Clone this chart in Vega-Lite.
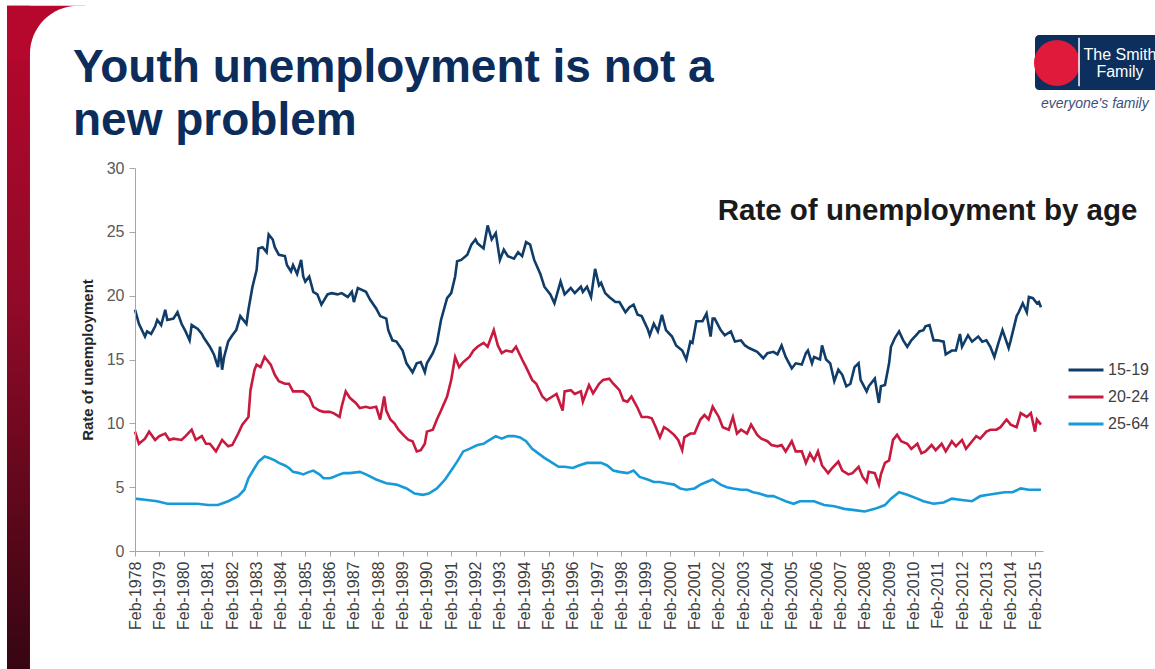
{
  "$schema": "https://vega.github.io/schema/vega-lite/v6.json",
  "width": 908,
  "height": 383,
  "autosize": {"type": "none"},
  "padding": {"left": 135, "top": 168, "right": 112, "bottom": 118},
  "background": "white",
  "config": {"view": {"stroke": null}, "font": "Liberation Sans", "axis": {"labelOverlap": false}},
  "layer": [
    {
      "data": {"values": [{}]},
      "mark": {"type": "rect", "fill": {"gradient": "linear", "x1": 0, "y1": 0, "x2": 0, "y2": 1,
        "stops": [{"offset": 0, "color": "#b6072d"}, {"offset": 0.4, "color": "#910a27"}, {"offset": 0.88, "color": "#3a0613"}, {"offset": 1, "color": "#2a0410"}]}},
      "encoding": {
        "x": {"datum": {"year": 1972, "month": 10, "date": 28, "utc": true}, "type": "temporal"},
        "x2": {"datum": {"year": 1973, "month": 10, "date": 8, "utc": true}},
        "y": {"datum": 42.7, "type": "quantitative"},
        "y2": {"datum": -15}
      }
    },
    {
      "data": {"values": [{}]},
      "mark": {"type": "rect", "fill": "#b6072d"},
      "encoding": {
        "x": {"datum": {"year": 1972, "month": 10, "date": 28, "utc": true}, "type": "temporal"},
        "x2": {"datum": {"year": 1976, "month": 1, "date": 12, "utc": true}},
        "y": {"datum": 42.7, "type": "quantitative"},
        "y2": {"datum": 38.46}
      }
    },
    {
      "data": {"values": [{}]},
      "mark": {"type": "rect", "fill": "white", "cornerRadiusTopLeft": 48},
      "encoding": {
        "x": {"datum": {"year": 1973, "month": 10, "date": 8, "utc": true}, "type": "temporal"},
        "x2": {"datum": {"year": 1978, "month": 4, "date": 17, "utc": true}},
        "y": {"datum": 42.7, "type": "quantitative"},
        "y2": {"datum": 34.54}
      }
    },
    {
      "data": {"values": [{}]},
      "mark": {"type": "text", "text": "Youth unemployment is not a", "fill": "#0c2d5c", "fontSize": 46, "fontWeight": "bold", "align": "left", "baseline": "alphabetic"},
      "encoding": {
        "x": {"datum": {"year": 1975, "month": 7, "date": 16, "utc": true}, "type": "temporal"},
        "y": {"datum": 36.74, "type": "quantitative"}
      }
    },
    {
      "data": {"values": [{}]},
      "mark": {"type": "text", "text": "new problem", "fill": "#0c2d5c", "fontSize": 46, "fontWeight": "bold", "align": "left", "baseline": "alphabetic"},
      "encoding": {
        "x": {"datum": {"year": 1975, "month": 7, "date": 16, "utc": true}, "type": "temporal"},
        "y": {"datum": 32.58, "type": "quantitative"}
      }
    },
    {
      "data": {"values": [{}]},
      "mark": {"type": "rect", "fill": "#0d2f5e", "cornerRadius": 4},
      "encoding": {
        "x": {"datum": {"year": 2015, "month": 2, "date": 1, "utc": true}, "type": "temporal"},
        "x2": {"datum": {"year": 2030, "month": 1, "date": 1, "utc": true}},
        "y": {"datum": 40.42, "type": "quantitative"},
        "y2": {"datum": 36.11}
      }
    },
    {
      "data": {"values": [{}]},
      "mark": {"type": "point", "shape": "circle", "filled": true, "fill": "#e01a3a", "opacity": 1, "size": 2116},
      "encoding": {
        "x": {"datum": {"year": 2015, "month": 12, "date": 28, "utc": true}, "type": "temporal"},
        "y": {"datum": 38.22, "type": "quantitative"}
      }
    },
    {
      "data": {"values": [{}]},
      "mark": {"type": "rule", "stroke": "white", "strokeWidth": 1.5},
      "encoding": {
        "x": {"datum": {"year": 2016, "month": 11, "date": 23, "utc": true}, "type": "temporal"},
        "y": {"datum": 40.2, "type": "quantitative"},
        "y2": {"datum": 36.4}
      }
    },
    {
      "data": {"values": [{}]},
      "mark": {"type": "text", "text": "The Smith", "fill": "white", "fontSize": 16, "align": "center", "baseline": "alphabetic"},
      "encoding": {
        "x": {"datum": {"year": 2018, "month": 7, "date": 31, "utc": true}, "type": "temporal"},
        "y": {"datum": 38.46, "type": "quantitative"}
      }
    },
    {
      "data": {"values": [{}]},
      "mark": {"type": "text", "text": "Family", "fill": "white", "fontSize": 16, "align": "center", "baseline": "alphabetic"},
      "encoding": {
        "x": {"datum": {"year": 2018, "month": 7, "date": 31, "utc": true}, "type": "temporal"},
        "y": {"datum": 37.13, "type": "quantitative"}
      }
    },
    {
      "data": {"values": [{}]},
      "mark": {"type": "text", "text": "everyone's family", "fill": "#3d4f7c", "fontSize": 14, "fontStyle": "italic", "align": "center", "baseline": "alphabetic"},
      "encoding": {
        "x": {"datum": {"year": 2017, "month": 7, "date": 19, "utc": true}, "type": "temporal"},
        "y": {"datum": 34.7, "type": "quantitative"}
      }
    },
    {
      "data": {"values": [{}]},
      "mark": {"type": "text", "text": "Rate of unemployment by age", "fill": "#1a1a1a", "fontSize": 29.5, "fontWeight": "bold", "align": "center", "baseline": "alphabetic"},
      "encoding": {
        "x": {"datum": {"year": 2010, "month": 9, "date": 1, "utc": true}, "type": "temporal"},
        "y": {"datum": 25.93, "type": "quantitative"}
      }
    },
    {
      "data": {"values": [
        {"d":"1978-02","s":"15-19","v":18.9},{"d":"1978-04","s":"15-19","v":17.8},{"d":"1978-07","s":"15-19","v":16.8},{"d":"1978-08","s":"15-19","v":17.2},{"d":"1978-10","s":"15-19","v":17.0},{"d":"1978-12","s":"15-19","v":17.6},
        {"d":"1979-01","s":"15-19","v":18.1},{"d":"1979-03","s":"15-19","v":17.7},{"d":"1979-05","s":"15-19","v":18.9},{"d":"1979-06","s":"15-19","v":18.1},{"d":"1979-09","s":"15-19","v":18.2},{"d":"1979-11","s":"15-19","v":18.7},
        {"d":"1980-01","s":"15-19","v":17.8},{"d":"1980-03","s":"15-19","v":17.2},{"d":"1980-05","s":"15-19","v":16.5},{"d":"1980-06","s":"15-19","v":17.7},{"d":"1980-09","s":"15-19","v":17.4},{"d":"1980-11","s":"15-19","v":17.0},{"d":"1980-12","s":"15-19","v":16.7},
        {"d":"1981-03","s":"15-19","v":16.0},{"d":"1981-05","s":"15-19","v":15.4},{"d":"1981-07","s":"15-19","v":14.4},{"d":"1981-08","s":"15-19","v":16.0},{"d":"1981-09","s":"15-19","v":14.2},{"d":"1981-10","s":"15-19","v":15.2},{"d":"1981-12","s":"15-19","v":16.4},
        {"d":"1982-02","s":"15-19","v":16.9},{"d":"1982-04","s":"15-19","v":17.3},{"d":"1982-06","s":"15-19","v":18.4},{"d":"1982-09","s":"15-19","v":17.8},{"d":"1982-10","s":"15-19","v":18.9},{"d":"1982-12","s":"15-19","v":20.7},
        {"d":"1983-02","s":"15-19","v":22.0},{"d":"1983-03","s":"15-19","v":23.7},{"d":"1983-05","s":"15-19","v":23.8},{"d":"1983-07","s":"15-19","v":23.4},{"d":"1983-08","s":"15-19","v":24.8},{"d":"1983-10","s":"15-19","v":24.4},{"d":"1983-11","s":"15-19","v":23.8},
        {"d":"1984-01","s":"15-19","v":23.2},{"d":"1984-04","s":"15-19","v":23.1},{"d":"1984-05","s":"15-19","v":22.4},{"d":"1984-07","s":"15-19","v":21.9},{"d":"1984-08","s":"15-19","v":22.4},{"d":"1984-10","s":"15-19","v":21.7},{"d":"1984-12","s":"15-19","v":22.8},
        {"d":"1985-01","s":"15-19","v":21.5},{"d":"1985-02","s":"15-19","v":21.1},{"d":"1985-04","s":"15-19","v":21.5},{"d":"1985-06","s":"15-19","v":20.3},{"d":"1985-08","s":"15-19","v":20.1},{"d":"1985-10","s":"15-19","v":19.3},
        {"d":"1986-01","s":"15-19","v":20.1},{"d":"1986-03","s":"15-19","v":20.2},{"d":"1986-06","s":"15-19","v":20.1},{"d":"1986-08","s":"15-19","v":20.2},{"d":"1986-11","s":"15-19","v":19.9},
        {"d":"1987-01","s":"15-19","v":20.3},{"d":"1987-02","s":"15-19","v":19.5},{"d":"1987-04","s":"15-19","v":20.6},{"d":"1987-08","s":"15-19","v":20.3},{"d":"1987-10","s":"15-19","v":19.7},
        {"d":"1988-01","s":"15-19","v":19.0},{"d":"1988-03","s":"15-19","v":18.4},{"d":"1988-06","s":"15-19","v":18.2},{"d":"1988-07","s":"15-19","v":17.3},{"d":"1988-09","s":"15-19","v":16.5},{"d":"1988-11","s":"15-19","v":16.4},
        {"d":"1989-02","s":"15-19","v":15.7},{"d":"1989-04","s":"15-19","v":14.7},{"d":"1989-07","s":"15-19","v":14.0},{"d":"1989-09","s":"15-19","v":14.7},{"d":"1989-11","s":"15-19","v":14.8},
        {"d":"1990-01","s":"15-19","v":14.0},{"d":"1990-02","s":"15-19","v":14.7},{"d":"1990-05","s":"15-19","v":15.5},{"d":"1990-07","s":"15-19","v":16.3},{"d":"1990-09","s":"15-19","v":18.1},{"d":"1990-12","s":"15-19","v":19.8},
        {"d":"1991-02","s":"15-19","v":20.2},{"d":"1991-04","s":"15-19","v":21.5},{"d":"1991-05","s":"15-19","v":22.7},{"d":"1991-07","s":"15-19","v":22.8},{"d":"1991-10","s":"15-19","v":23.2},{"d":"1991-12","s":"15-19","v":24.0},
        {"d":"1992-02","s":"15-19","v":24.4},{"d":"1992-03","s":"15-19","v":24.1},{"d":"1992-06","s":"15-19","v":23.7},{"d":"1992-08","s":"15-19","v":25.5},{"d":"1992-10","s":"15-19","v":24.4},{"d":"1992-12","s":"15-19","v":24.9},
        {"d":"1993-02","s":"15-19","v":22.8},{"d":"1993-04","s":"15-19","v":23.6},{"d":"1993-06","s":"15-19","v":23.1},{"d":"1993-09","s":"15-19","v":22.9},{"d":"1993-11","s":"15-19","v":23.4},
        {"d":"1994-01","s":"15-19","v":23.1},{"d":"1994-03","s":"15-19","v":24.2},{"d":"1994-05","s":"15-19","v":24.0},{"d":"1994-07","s":"15-19","v":22.8},{"d":"1994-10","s":"15-19","v":21.7},{"d":"1994-12","s":"15-19","v":20.7},
        {"d":"1995-03","s":"15-19","v":20.1},{"d":"1995-05","s":"15-19","v":19.4},{"d":"1995-08","s":"15-19","v":21.1},{"d":"1995-10","s":"15-19","v":20.1},
        {"d":"1996-01","s":"15-19","v":20.6},{"d":"1996-03","s":"15-19","v":20.2},{"d":"1996-06","s":"15-19","v":20.7},{"d":"1996-07","s":"15-19","v":20.3},{"d":"1996-09","s":"15-19","v":20.7},{"d":"1996-11","s":"15-19","v":19.9},{"d":"1996-12","s":"15-19","v":21.0},
        {"d":"1997-01","s":"15-19","v":22.1},{"d":"1997-03","s":"15-19","v":20.8},{"d":"1997-04","s":"15-19","v":21.0},{"d":"1997-06","s":"15-19","v":20.2},{"d":"1997-08","s":"15-19","v":19.9},{"d":"1997-11","s":"15-19","v":19.5},
        {"d":"1998-01","s":"15-19","v":19.5},{"d":"1998-04","s":"15-19","v":18.7},{"d":"1998-06","s":"15-19","v":19.1},{"d":"1998-08","s":"15-19","v":19.3},{"d":"1998-10","s":"15-19","v":18.5},{"d":"1998-12","s":"15-19","v":18.4},
        {"d":"1999-03","s":"15-19","v":17.4},{"d":"1999-04","s":"15-19","v":16.9},{"d":"1999-06","s":"15-19","v":17.8},{"d":"1999-08","s":"15-19","v":17.2},{"d":"1999-10","s":"15-19","v":18.5},{"d":"1999-12","s":"15-19","v":17.3},
        {"d":"2000-03","s":"15-19","v":16.8},{"d":"2000-05","s":"15-19","v":16.1},{"d":"2000-08","s":"15-19","v":15.7},{"d":"2000-10","s":"15-19","v":15.0},{"d":"2000-12","s":"15-19","v":16.4},
        {"d":"2001-01","s":"15-19","v":16.3},{"d":"2001-03","s":"15-19","v":18.0},{"d":"2001-06","s":"15-19","v":18.0},{"d":"2001-08","s":"15-19","v":18.6},{"d":"2001-10","s":"15-19","v":16.8},{"d":"2001-11","s":"15-19","v":18.2},{"d":"2001-12","s":"15-19","v":18.2},
        {"d":"2002-03","s":"15-19","v":17.3},{"d":"2002-05","s":"15-19","v":16.9},{"d":"2002-08","s":"15-19","v":17.2},{"d":"2002-10","s":"15-19","v":16.4},
        {"d":"2003-01","s":"15-19","v":16.5},{"d":"2003-03","s":"15-19","v":16.1},{"d":"2003-05","s":"15-19","v":15.9},{"d":"2003-09","s":"15-19","v":15.6},{"d":"2003-12","s":"15-19","v":15.1},
        {"d":"2004-02","s":"15-19","v":15.5},{"d":"2004-05","s":"15-19","v":15.6},{"d":"2004-07","s":"15-19","v":15.4},{"d":"2004-09","s":"15-19","v":16.1},{"d":"2004-11","s":"15-19","v":15.2},
        {"d":"2005-02","s":"15-19","v":14.3},{"d":"2005-04","s":"15-19","v":14.7},{"d":"2005-07","s":"15-19","v":14.6},{"d":"2005-09","s":"15-19","v":15.5},{"d":"2005-10","s":"15-19","v":15.7},{"d":"2005-12","s":"15-19","v":14.7},
        {"d":"2006-01","s":"15-19","v":15.2},{"d":"2006-04","s":"15-19","v":15.0},{"d":"2006-05","s":"15-19","v":16.1},{"d":"2006-07","s":"15-19","v":15.0},{"d":"2006-09","s":"15-19","v":14.7},{"d":"2006-11","s":"15-19","v":13.3},
        {"d":"2007-01","s":"15-19","v":14.2},{"d":"2007-03","s":"15-19","v":13.8},{"d":"2007-05","s":"15-19","v":12.9},{"d":"2007-07","s":"15-19","v":13.1},{"d":"2007-09","s":"15-19","v":14.4},{"d":"2007-11","s":"15-19","v":14.7},{"d":"2007-12","s":"15-19","v":13.4},
        {"d":"2008-03","s":"15-19","v":12.5},{"d":"2008-04","s":"15-19","v":12.9},{"d":"2008-07","s":"15-19","v":13.5},{"d":"2008-09","s":"15-19","v":11.6},{"d":"2008-10","s":"15-19","v":12.9},{"d":"2008-12","s":"15-19","v":13.0},
        {"d":"2009-02","s":"15-19","v":14.7},{"d":"2009-03","s":"15-19","v":16.0},{"d":"2009-05","s":"15-19","v":16.7},{"d":"2009-07","s":"15-19","v":17.2},{"d":"2009-09","s":"15-19","v":16.5},{"d":"2009-11","s":"15-19","v":16.0},
        {"d":"2010-01","s":"15-19","v":16.5},{"d":"2010-04","s":"15-19","v":17.0},{"d":"2010-05","s":"15-19","v":17.2},{"d":"2010-07","s":"15-19","v":17.3},{"d":"2010-08","s":"15-19","v":17.6},{"d":"2010-10","s":"15-19","v":17.7},{"d":"2010-12","s":"15-19","v":16.5},
        {"d":"2011-02","s":"15-19","v":16.5},{"d":"2011-05","s":"15-19","v":16.4},{"d":"2011-06","s":"15-19","v":15.4},{"d":"2011-09","s":"15-19","v":15.7},{"d":"2011-11","s":"15-19","v":15.7},
        {"d":"2012-01","s":"15-19","v":17.0},{"d":"2012-02","s":"15-19","v":16.0},{"d":"2012-05","s":"15-19","v":16.9},{"d":"2012-07","s":"15-19","v":16.4},{"d":"2012-10","s":"15-19","v":16.8},{"d":"2012-12","s":"15-19","v":16.4},
        {"d":"2013-02","s":"15-19","v":16.5},{"d":"2013-04","s":"15-19","v":16.0},{"d":"2013-06","s":"15-19","v":15.2},{"d":"2013-08","s":"15-19","v":16.3},{"d":"2013-10","s":"15-19","v":17.3},
        {"d":"2014-01","s":"15-19","v":15.9},{"d":"2014-02","s":"15-19","v":16.5},{"d":"2014-05","s":"15-19","v":18.4},{"d":"2014-06","s":"15-19","v":18.7},{"d":"2014-08","s":"15-19","v":19.4},{"d":"2014-10","s":"15-19","v":18.7},{"d":"2014-11","s":"15-19","v":19.9},
        {"d":"2015-01","s":"15-19","v":19.8},{"d":"2015-03","s":"15-19","v":19.4},{"d":"2015-04","s":"15-19","v":19.5},{"d":"2015-05","s":"15-19","v":19.1},

        {"d":"1978-02","s":"20-24","v":9.35},{"d":"1978-04","s":"20-24","v":8.4},{"d":"1978-07","s":"20-24","v":8.8},{"d":"1978-09","s":"20-24","v":9.35},{"d":"1978-12","s":"20-24","v":8.7},
        {"d":"1979-02","s":"20-24","v":9.0},{"d":"1979-05","s":"20-24","v":9.2},{"d":"1979-07","s":"20-24","v":8.7},{"d":"1979-09","s":"20-24","v":8.8},
        {"d":"1980-01","s":"20-24","v":8.7},{"d":"1980-03","s":"20-24","v":9.0},{"d":"1980-06","s":"20-24","v":9.5},{"d":"1980-08","s":"20-24","v":8.7},{"d":"1980-11","s":"20-24","v":9.0},
        {"d":"1981-01","s":"20-24","v":8.4},{"d":"1981-03","s":"20-24","v":8.4},{"d":"1981-06","s":"20-24","v":7.8},{"d":"1981-08","s":"20-24","v":8.4},{"d":"1981-09","s":"20-24","v":8.7},{"d":"1981-12","s":"20-24","v":8.2},
        {"d":"1982-02","s":"20-24","v":8.3},{"d":"1982-05","s":"20-24","v":9.2},{"d":"1982-07","s":"20-24","v":9.9},{"d":"1982-10","s":"20-24","v":10.5},{"d":"1982-11","s":"20-24","v":12.6},
        {"d":"1983-01","s":"20-24","v":14.2},{"d":"1983-02","s":"20-24","v":14.6},{"d":"1983-04","s":"20-24","v":14.4},{"d":"1983-06","s":"20-24","v":15.2},{"d":"1983-07","s":"20-24","v":15.0},{"d":"1983-09","s":"20-24","v":14.6},{"d":"1983-11","s":"20-24","v":13.8},
        {"d":"1984-01","s":"20-24","v":13.3},{"d":"1984-04","s":"20-24","v":13.1},{"d":"1984-06","s":"20-24","v":13.1},{"d":"1984-08","s":"20-24","v":12.5},{"d":"1984-11","s":"20-24","v":12.5},
        {"d":"1985-01","s":"20-24","v":12.5},{"d":"1985-04","s":"20-24","v":12.1},{"d":"1985-06","s":"20-24","v":11.3},{"d":"1985-09","s":"20-24","v":11.0},{"d":"1985-11","s":"20-24","v":10.9},
        {"d":"1986-02","s":"20-24","v":10.9},{"d":"1986-04","s":"20-24","v":10.8},{"d":"1986-07","s":"20-24","v":10.5},{"d":"1986-08","s":"20-24","v":11.3},{"d":"1986-10","s":"20-24","v":12.5},{"d":"1986-12","s":"20-24","v":12.0},
        {"d":"1987-03","s":"20-24","v":11.6},{"d":"1987-05","s":"20-24","v":11.2},{"d":"1987-08","s":"20-24","v":11.3},{"d":"1987-10","s":"20-24","v":11.2},
        {"d":"1988-01","s":"20-24","v":11.3},{"d":"1988-03","s":"20-24","v":10.3},{"d":"1988-05","s":"20-24","v":12.1},{"d":"1988-06","s":"20-24","v":11.0},{"d":"1988-08","s":"20-24","v":10.3},{"d":"1988-10","s":"20-24","v":10.0},{"d":"1988-12","s":"20-24","v":9.5},
        {"d":"1989-03","s":"20-24","v":9.0},{"d":"1989-05","s":"20-24","v":8.7},{"d":"1989-07","s":"20-24","v":8.6},{"d":"1989-09","s":"20-24","v":7.8},{"d":"1989-11","s":"20-24","v":7.9},
        {"d":"1990-01","s":"20-24","v":8.4},{"d":"1990-02","s":"20-24","v":9.35},{"d":"1990-05","s":"20-24","v":9.5},{"d":"1990-07","s":"20-24","v":10.3},{"d":"1990-09","s":"20-24","v":11.0},{"d":"1990-12","s":"20-24","v":12.1},
        {"d":"1991-02","s":"20-24","v":13.4},{"d":"1991-04","s":"20-24","v":15.2},{"d":"1991-06","s":"20-24","v":14.4},{"d":"1991-08","s":"20-24","v":14.8},{"d":"1991-11","s":"20-24","v":15.2},
        {"d":"1992-01","s":"20-24","v":15.7},{"d":"1992-03","s":"20-24","v":16.0},{"d":"1992-06","s":"20-24","v":16.3},{"d":"1992-08","s":"20-24","v":16.0},{"d":"1992-11","s":"20-24","v":17.3},
        {"d":"1993-01","s":"20-24","v":16.1},{"d":"1993-03","s":"20-24","v":15.5},{"d":"1993-05","s":"20-24","v":15.7},{"d":"1993-08","s":"20-24","v":15.6},{"d":"1993-10","s":"20-24","v":16.0},
        {"d":"1994-01","s":"20-24","v":15.0},{"d":"1994-03","s":"20-24","v":14.4},{"d":"1994-06","s":"20-24","v":13.4},{"d":"1994-08","s":"20-24","v":13.1},{"d":"1994-11","s":"20-24","v":12.1},
        {"d":"1995-01","s":"20-24","v":11.8},{"d":"1995-04","s":"20-24","v":12.1},{"d":"1995-06","s":"20-24","v":12.3},{"d":"1995-09","s":"20-24","v":11.0},{"d":"1995-10","s":"20-24","v":12.5},
        {"d":"1996-01","s":"20-24","v":12.6},{"d":"1996-03","s":"20-24","v":12.3},{"d":"1996-06","s":"20-24","v":12.5},{"d":"1996-07","s":"20-24","v":11.7},{"d":"1996-10","s":"20-24","v":13.0},{"d":"1996-12","s":"20-24","v":12.35},
        {"d":"1997-03","s":"20-24","v":13.1},{"d":"1997-05","s":"20-24","v":13.4},{"d":"1997-08","s":"20-24","v":13.5},{"d":"1997-10","s":"20-24","v":13.1},
        {"d":"1998-01","s":"20-24","v":12.6},{"d":"1998-03","s":"20-24","v":11.8},{"d":"1998-05","s":"20-24","v":11.7},{"d":"1998-07","s":"20-24","v":12.1},{"d":"1998-10","s":"20-24","v":11.2},{"d":"1998-12","s":"20-24","v":10.5},
        {"d":"1999-03","s":"20-24","v":10.5},{"d":"1999-05","s":"20-24","v":10.4},{"d":"1999-07","s":"20-24","v":9.7},{"d":"1999-09","s":"20-24","v":8.9},{"d":"1999-11","s":"20-24","v":9.7},
        {"d":"2000-01","s":"20-24","v":9.5},{"d":"2000-04","s":"20-24","v":9.1},{"d":"2000-06","s":"20-24","v":8.7},{"d":"2000-08","s":"20-24","v":7.9},{"d":"2000-09","s":"20-24","v":8.9},{"d":"2000-12","s":"20-24","v":9.2},
        {"d":"2001-02","s":"20-24","v":9.2},{"d":"2001-05","s":"20-24","v":10.3},{"d":"2001-07","s":"20-24","v":10.65},{"d":"2001-09","s":"20-24","v":10.3},{"d":"2001-11","s":"20-24","v":11.3},
        {"d":"2002-02","s":"20-24","v":10.5},{"d":"2002-04","s":"20-24","v":9.7},{"d":"2002-07","s":"20-24","v":9.5},{"d":"2002-09","s":"20-24","v":10.5},{"d":"2002-11","s":"20-24","v":9.2},
        {"d":"2003-01","s":"20-24","v":9.5},{"d":"2003-04","s":"20-24","v":9.2},{"d":"2003-06","s":"20-24","v":9.9},{"d":"2003-09","s":"20-24","v":9.1},{"d":"2003-11","s":"20-24","v":8.8},
        {"d":"2004-02","s":"20-24","v":8.6},{"d":"2004-04","s":"20-24","v":8.3},{"d":"2004-07","s":"20-24","v":8.2},{"d":"2004-09","s":"20-24","v":8.3},{"d":"2004-11","s":"20-24","v":7.8},
        {"d":"2005-02","s":"20-24","v":8.6},{"d":"2005-04","s":"20-24","v":7.8},{"d":"2005-07","s":"20-24","v":7.8},{"d":"2005-09","s":"20-24","v":6.9},{"d":"2005-11","s":"20-24","v":7.65},
        {"d":"2006-01","s":"20-24","v":7.1},{"d":"2006-03","s":"20-24","v":7.8},{"d":"2006-05","s":"20-24","v":6.7},{"d":"2006-08","s":"20-24","v":6.1},{"d":"2006-10","s":"20-24","v":6.5},
        {"d":"2007-01","s":"20-24","v":7.0},{"d":"2007-03","s":"20-24","v":6.3},{"d":"2007-06","s":"20-24","v":6.0},{"d":"2007-08","s":"20-24","v":6.1},{"d":"2007-11","s":"20-24","v":6.6},
        {"d":"2008-01","s":"20-24","v":5.8},{"d":"2008-03","s":"20-24","v":5.4},{"d":"2008-04","s":"20-24","v":6.2},{"d":"2008-07","s":"20-24","v":6.1},{"d":"2008-09","s":"20-24","v":5.2},{"d":"2008-10","s":"20-24","v":6.0},{"d":"2008-12","s":"20-24","v":6.9},
        {"d":"2009-02","s":"20-24","v":7.1},{"d":"2009-04","s":"20-24","v":8.7},{"d":"2009-06","s":"20-24","v":9.1},{"d":"2009-08","s":"20-24","v":8.6},{"d":"2009-11","s":"20-24","v":8.4},
        {"d":"2010-01","s":"20-24","v":8.0},{"d":"2010-04","s":"20-24","v":8.4},{"d":"2010-06","s":"20-24","v":7.65},{"d":"2010-08","s":"20-24","v":7.8},{"d":"2010-11","s":"20-24","v":8.3},
        {"d":"2011-01","s":"20-24","v":7.9},{"d":"2011-04","s":"20-24","v":8.4},{"d":"2011-06","s":"20-24","v":7.8},{"d":"2011-09","s":"20-24","v":8.6},{"d":"2011-11","s":"20-24","v":8.2},
        {"d":"2012-02","s":"20-24","v":8.7},{"d":"2012-04","s":"20-24","v":8.0},{"d":"2012-07","s":"20-24","v":8.6},{"d":"2012-09","s":"20-24","v":9.0},{"d":"2012-11","s":"20-24","v":8.8},
        {"d":"2013-02","s":"20-24","v":9.35},{"d":"2013-04","s":"20-24","v":9.5},{"d":"2013-07","s":"20-24","v":9.5},{"d":"2013-09","s":"20-24","v":9.7},{"d":"2013-12","s":"20-24","v":10.3},
        {"d":"2014-02","s":"20-24","v":9.9},{"d":"2014-05","s":"20-24","v":9.7},{"d":"2014-07","s":"20-24","v":10.8},{"d":"2014-10","s":"20-24","v":10.5},{"d":"2014-12","s":"20-24","v":10.8},
        {"d":"2015-02","s":"20-24","v":9.35},{"d":"2015-03","s":"20-24","v":10.3},{"d":"2015-05","s":"20-24","v":9.9},

        {"d":"1978-02","s":"25-64","v":4.1},{"d":"1978-08","s":"25-64","v":4.0},{"d":"1979-01","s":"25-64","v":3.9},{"d":"1979-06","s":"25-64","v":3.7},{"d":"1979-11","s":"25-64","v":3.7},
        {"d":"1980-04","s":"25-64","v":3.7},{"d":"1980-09","s":"25-64","v":3.7},{"d":"1981-02","s":"25-64","v":3.6},{"d":"1981-07","s":"25-64","v":3.6},{"d":"1981-12","s":"25-64","v":3.9},
        {"d":"1982-05","s":"25-64","v":4.3},{"d":"1982-08","s":"25-64","v":4.8},{"d":"1982-10","s":"25-64","v":5.7},{"d":"1983-01","s":"25-64","v":6.5},{"d":"1983-03","s":"25-64","v":7.0},{"d":"1983-06","s":"25-64","v":7.4},{"d":"1983-08","s":"25-64","v":7.3},{"d":"1983-11","s":"25-64","v":7.1},
        {"d":"1984-01","s":"25-64","v":6.9},{"d":"1984-04","s":"25-64","v":6.7},{"d":"1984-06","s":"25-64","v":6.5},{"d":"1984-08","s":"25-64","v":6.2},{"d":"1984-11","s":"25-64","v":6.1},
        {"d":"1985-01","s":"25-64","v":6.0},{"d":"1985-04","s":"25-64","v":6.2},{"d":"1985-06","s":"25-64","v":6.3},{"d":"1985-09","s":"25-64","v":6.0},{"d":"1985-11","s":"25-64","v":5.7},
        {"d":"1986-02","s":"25-64","v":5.7},{"d":"1986-04","s":"25-64","v":5.8},{"d":"1986-07","s":"25-64","v":6.0},{"d":"1986-09","s":"25-64","v":6.1},{"d":"1986-12","s":"25-64","v":6.1},
        {"d":"1987-05","s":"25-64","v":6.2},{"d":"1987-08","s":"25-64","v":6.0},{"d":"1988-01","s":"25-64","v":5.6},{"d":"1988-06","s":"25-64","v":5.3},{"d":"1988-11","s":"25-64","v":5.2},
        {"d":"1989-04","s":"25-64","v":4.9},{"d":"1989-08","s":"25-64","v":4.5},{"d":"1989-12","s":"25-64","v":4.4},{"d":"1990-03","s":"25-64","v":4.5},{"d":"1990-07","s":"25-64","v":4.9},{"d":"1990-11","s":"25-64","v":5.6},
        {"d":"1991-02","s":"25-64","v":6.3},{"d":"1991-05","s":"25-64","v":7.0},{"d":"1991-08","s":"25-64","v":7.8},{"d":"1991-11","s":"25-64","v":8.0},
        {"d":"1992-03","s":"25-64","v":8.3},{"d":"1992-06","s":"25-64","v":8.4},{"d":"1992-08","s":"25-64","v":8.6},{"d":"1992-12","s":"25-64","v":9.0},
        {"d":"1993-03","s":"25-64","v":8.8},{"d":"1993-06","s":"25-64","v":9.0},{"d":"1993-09","s":"25-64","v":9.0},{"d":"1993-12","s":"25-64","v":8.9},
        {"d":"1994-03","s":"25-64","v":8.6},{"d":"1994-06","s":"25-64","v":8.0},{"d":"1994-09","s":"25-64","v":7.65},{"d":"1994-12","s":"25-64","v":7.3},
        {"d":"1995-04","s":"25-64","v":6.9},{"d":"1995-07","s":"25-64","v":6.6},{"d":"1995-10","s":"25-64","v":6.6},{"d":"1996-02","s":"25-64","v":6.5},{"d":"1996-05","s":"25-64","v":6.7},{"d":"1996-09","s":"25-64","v":6.9},{"d":"1996-12","s":"25-64","v":6.9},
        {"d":"1997-04","s":"25-64","v":6.9},{"d":"1997-07","s":"25-64","v":6.7},{"d":"1997-10","s":"25-64","v":6.3},{"d":"1998-01","s":"25-64","v":6.2},{"d":"1998-05","s":"25-64","v":6.1},{"d":"1998-08","s":"25-64","v":6.3},{"d":"1998-11","s":"25-64","v":5.8},
        {"d":"1999-03","s":"25-64","v":5.6},{"d":"1999-06","s":"25-64","v":5.4},{"d":"1999-09","s":"25-64","v":5.4},{"d":"1999-12","s":"25-64","v":5.3},
        {"d":"2000-04","s":"25-64","v":5.2},{"d":"2000-07","s":"25-64","v":4.9},{"d":"2000-10","s":"25-64","v":4.8},{"d":"2001-02","s":"25-64","v":4.9},{"d":"2001-05","s":"25-64","v":5.2},{"d":"2001-08","s":"25-64","v":5.4},{"d":"2001-11","s":"25-64","v":5.6},
        {"d":"2002-03","s":"25-64","v":5.2},{"d":"2002-06","s":"25-64","v":5.0},{"d":"2002-09","s":"25-64","v":4.9},{"d":"2003-01","s":"25-64","v":4.8},{"d":"2003-04","s":"25-64","v":4.8},{"d":"2003-07","s":"25-64","v":4.6},{"d":"2003-10","s":"25-64","v":4.5},
        {"d":"2004-02","s":"25-64","v":4.3},{"d":"2004-05","s":"25-64","v":4.3},{"d":"2004-08","s":"25-64","v":4.1},{"d":"2004-11","s":"25-64","v":3.9},
        {"d":"2005-03","s":"25-64","v":3.7},{"d":"2005-06","s":"25-64","v":3.9},{"d":"2005-11","s":"25-64","v":3.9},{"d":"2006-01","s":"25-64","v":3.9},{"d":"2006-06","s":"25-64","v":3.6},{"d":"2006-11","s":"25-64","v":3.5},
        {"d":"2007-04","s":"25-64","v":3.3},{"d":"2007-09","s":"25-64","v":3.2},{"d":"2008-02","s":"25-64","v":3.1},{"d":"2008-07","s":"25-64","v":3.3},{"d":"2008-12","s":"25-64","v":3.6},
        {"d":"2009-03","s":"25-64","v":4.1},{"d":"2009-07","s":"25-64","v":4.6},{"d":"2009-11","s":"25-64","v":4.4},{"d":"2010-04","s":"25-64","v":4.1},{"d":"2010-07","s":"25-64","v":3.9},{"d":"2010-12","s":"25-64","v":3.7},
        {"d":"2011-05","s":"25-64","v":3.8},{"d":"2011-09","s":"25-64","v":4.1},{"d":"2012-02","s":"25-64","v":4.0},{"d":"2012-07","s":"25-64","v":3.9},{"d":"2012-11","s":"25-64","v":4.3},
        {"d":"2013-03","s":"25-64","v":4.4},{"d":"2013-07","s":"25-64","v":4.5},{"d":"2013-11","s":"25-64","v":4.6},{"d":"2014-03","s":"25-64","v":4.6},{"d":"2014-07","s":"25-64","v":4.9},{"d":"2014-11","s":"25-64","v":4.8},{"d":"2015-05","s":"25-64","v":4.8}
      ]},
      "mark": {"type": "line", "strokeWidth": 2.6, "interpolate": "linear"},
      "encoding": {
        "x": {
          "field": "d", "type": "temporal",
          "scale": {"type": "utc", "domain": [{"year": 1978, "month": 2, "date": 1, "utc": true}, {"year": 2015, "month": 6, "date": 1, "utc": true}]},
          "axis": {
            "title": null, "format": "%b-%Y", "labelAngle": -90, "labelFontSize": 16, "labelColor": "#404040", "labelFont": "Liberation Sans",
            "tickSize": 5, "tickColor": "#a6a6a6", "domainColor": "#a6a6a6", "labelPadding": 5, "grid": false, "zindex": 1, "labelOverlap": false, "tickCount": 60,
            "values": [
              {"year":1978,"month":2,"date":1,"utc":true},{"year":1979,"month":2,"date":1,"utc":true},{"year":1980,"month":2,"date":1,"utc":true},{"year":1981,"month":2,"date":1,"utc":true},
              {"year":1982,"month":2,"date":1,"utc":true},{"year":1983,"month":2,"date":1,"utc":true},{"year":1984,"month":2,"date":1,"utc":true},{"year":1985,"month":2,"date":1,"utc":true},
              {"year":1986,"month":2,"date":1,"utc":true},{"year":1987,"month":2,"date":1,"utc":true},{"year":1988,"month":2,"date":1,"utc":true},{"year":1989,"month":2,"date":1,"utc":true},
              {"year":1990,"month":2,"date":1,"utc":true},{"year":1991,"month":2,"date":1,"utc":true},{"year":1992,"month":2,"date":1,"utc":true},{"year":1993,"month":2,"date":1,"utc":true},
              {"year":1994,"month":2,"date":1,"utc":true},{"year":1995,"month":2,"date":1,"utc":true},{"year":1996,"month":2,"date":1,"utc":true},{"year":1997,"month":2,"date":1,"utc":true},
              {"year":1998,"month":2,"date":1,"utc":true},{"year":1999,"month":2,"date":1,"utc":true},{"year":2000,"month":2,"date":1,"utc":true},{"year":2001,"month":2,"date":1,"utc":true},
              {"year":2002,"month":2,"date":1,"utc":true},{"year":2003,"month":2,"date":1,"utc":true},{"year":2004,"month":2,"date":1,"utc":true},{"year":2005,"month":2,"date":1,"utc":true},
              {"year":2006,"month":2,"date":1,"utc":true},{"year":2007,"month":2,"date":1,"utc":true},{"year":2008,"month":2,"date":1,"utc":true},{"year":2009,"month":2,"date":1,"utc":true},
              {"year":2010,"month":2,"date":1,"utc":true},{"year":2011,"month":2,"date":1,"utc":true},{"year":2012,"month":2,"date":1,"utc":true},{"year":2013,"month":2,"date":1,"utc":true},
              {"year":2014,"month":2,"date":1,"utc":true},{"year":2015,"month":2,"date":1,"utc":true}
            ]
          }
        },
        "y": {
          "field": "v", "type": "quantitative",
          "scale": {"domain": [0, 30], "nice": false, "zero": true},
          "axis": {
            "title": "Rate of unemployment", "titleFontSize": 15, "titleFontWeight": "bold", "titleColor": "#262626", "titleFont": "Liberation Sans",
            "titlePadding": 11, "values": [0, 5, 10, 15, 20, 25, 30], "labelFontSize": 16, "labelColor": "#595959", "labelFont": "Liberation Sans",
            "tickSize": 6, "tickColor": "#a6a6a6", "domainColor": "#a6a6a6", "labelPadding": 5, "grid": false, "zindex": 1
          }
        },
        "color": {
          "field": "s", "type": "nominal",
          "scale": {"domain": ["15-19", "20-24", "25-64"], "range": ["#0f3c68", "#c8193f", "#169bd8"]},
          "legend": {
            "title": null, "orient": "none", "legendX": 932, "legendY": 183, "symbolType": "stroke", "symbolSize": 1225,
            "symbolStrokeWidth": 3, "labelFontSize": 16, "labelColor": "#404040", "labelFont": "Liberation Sans",
            "labelOffset": 3, "rowPadding": -9, "padding": 0, "zindex": 1
          }
        }
      }
    }
  ]
}
